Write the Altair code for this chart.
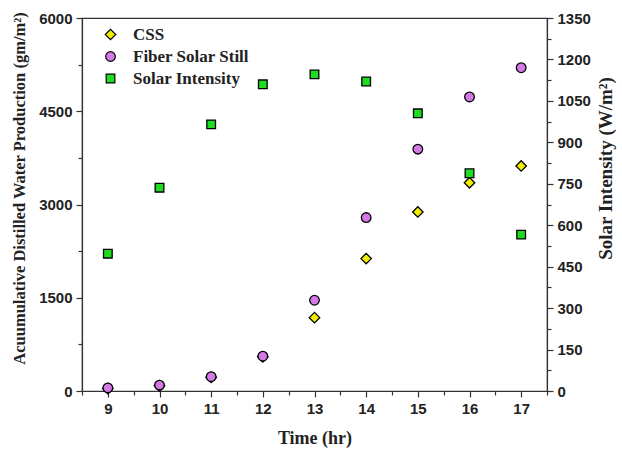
import altair as alt
import pandas as pd

hours = [9, 10, 11, 12, 13, 14, 15, 16, 17]
css = [40, 85, 220, 550, 1180, 2130, 2880, 3350, 3620]
fiber = [50, 95, 230, 560, 1460, 2790, 3890, 4730, 5200]
solar = [497, 736, 965, 1110, 1146, 1120, 1005, 788, 566]

series_names = ["CSS", "Fiber Solar Still", "Solar Intensity"]
fills = ["#f2ee00", "#d47ae6", "#1edc1e"]
shapes = ["diamond", "circle", "square"]
sizes = [110, 75, 48]

rows = []
for h, c, f, s in zip(hours, css, fiber, solar):
    rows.append({"t": h, "series": "CSS", "water": c, "solar": None})
    rows.append({"t": h, "series": "Fiber Solar Still", "water": f, "solar": None})
    rows.append({"t": h, "series": "Solar Intensity", "water": None, "solar": s})
df = pd.DataFrame(rows)

SANS = "Liberation Sans"
SERIF = "Liberation Serif"

legend = alt.Legend(title=None, orient="none", legendX=20, legendY=8,
                    labelFont=SERIF, labelFontSize=17, labelFontWeight="bold",
                    labelColor="#222", symbolStrokeColor="black",
                    symbolStrokeWidth=1.2, symbolSize=70, rowPadding=4,
                    labelOffset=14)
color = alt.Color("series:N", scale=alt.Scale(domain=series_names, range=fills), legend=legend)
shape = alt.Shape("series:N", scale=alt.Scale(domain=series_names, range=shapes), legend=legend)
size = alt.Size("series:N", scale=alt.Scale(domain=series_names, range=sizes), legend=None)

xaxis = alt.X("t:Q", scale=alt.Scale(domain=[8.5, 17.5], nice=False, zero=False),
              axis=alt.Axis(title="Time (hr)", titleFontSize=18,
                            values=[8.5 + 0.5 * i for i in range(19)],
                            labelExpr="datum.value % 1 === 0 ? format(datum.value, 'd') : ''",
                            tickSize={"condition": {"test": "datum.value % 1 === 0", "value": 6}, "value": 4},
                            grid=False))

base = alt.Chart(df)

water = base.transform_filter("datum.water != null").mark_point(
    filled=True, stroke="black", strokeWidth=1.3, opacity=1
).encode(
    x=xaxis,
    y=alt.Y("water:Q", scale=alt.Scale(domain=[0, 6000], nice=False),
            axis=alt.Axis(title="Acuumulative Distilled Water Production (gm/m²)", titleFontSize=16.5,
                          titleY=170,
                          values=[750 * i for i in range(9)],
                          labelExpr="datum.value % 1500 === 0 ? format(datum.value, 'd') : ''",
                          tickSize={"condition": {"test": "datum.value % 1500 === 0", "value": 6}, "value": 4},
                          grid=False)),
    color=color, shape=shape, size=size,
)

sol = base.transform_filter("datum.solar != null").mark_point(
    filled=True, stroke="black", strokeWidth=1.3, opacity=1
).encode(
    x=xaxis,
    y=alt.Y("solar:Q", scale=alt.Scale(domain=[0, 1350], nice=False),
            axis=alt.Axis(title="Solar Intensity (W/m²)", orient="right", titleAngle=270,
                          titleBaseline="top", titleFontSize=19, titleY=150,
                          values=[75 * i for i in range(19)],
                          labelExpr="datum.value % 150 === 0 ? format(datum.value, 'd') : ''",
                          tickSize={"condition": {"test": "datum.value % 150 === 0", "value": 6}, "value": 4},
                          grid=False)),
    color=color, shape=shape, size=size,
)

chart = alt.layer(water, sol).resolve_scale(y="independent").properties(
    width=465, height=373,
    autosize=alt.AutoSizeParams(type="none"),
    padding={"left": 82, "top": 18, "right": 75, "bottom": 59},
).configure_view(stroke="#333", strokeWidth=1.2).configure_axis(
    domainColor="#333", domainWidth=1.2, tickColor="#333", tickWidth=1.2,
    labelFont=SANS, labelFontSize=15, labelFontWeight="bold", labelColor="#222",
    titleFont=SERIF, titleFontWeight="bold", titleColor="#222",
    labelPadding=4,
).configure_axisX(titlePadding=13).configure_axisLeft(titlePadding=11).configure_axisRight(titlePadding=6)

chart.save("out.html", embed_options={"renderer": "svg", "actions": False})
